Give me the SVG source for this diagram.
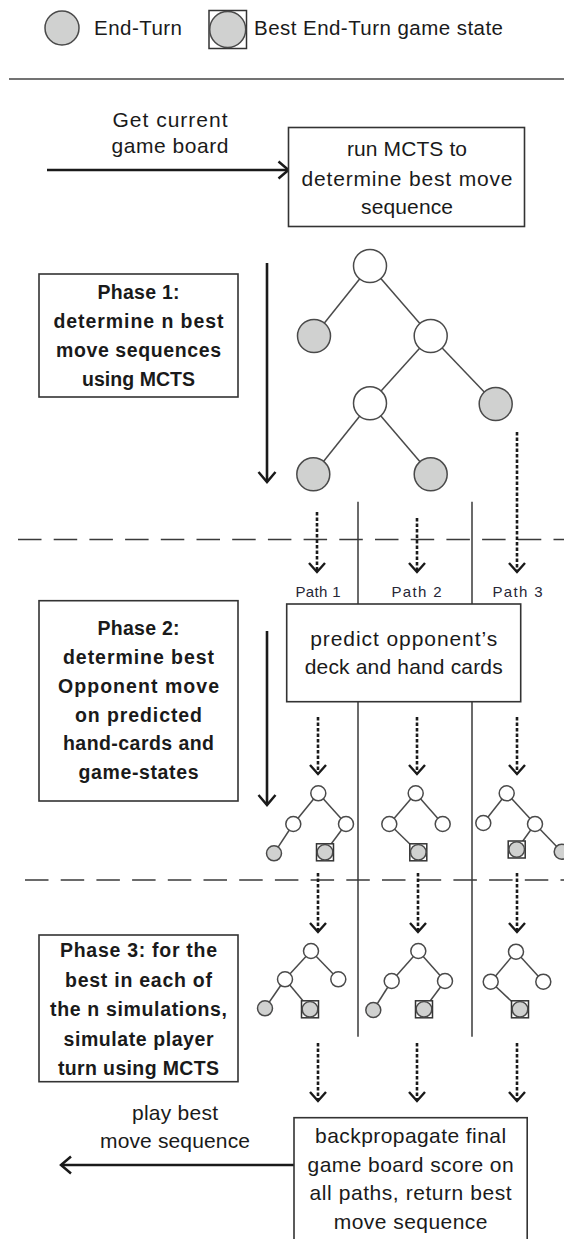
<svg xmlns="http://www.w3.org/2000/svg" width="564" height="1239" viewBox="0 0 564 1239">
  <style>
    .t { font-family: "Liberation Sans", Arial, sans-serif; font-size: 21px; fill: #1a1a1a; text-anchor: middle; }
    .b { font-weight: bold; font-size: 19.5px; }
    .lg { font-size: 20.5px; text-anchor: start; }
    .pl { font-size: 15px; fill: #262636; }
    .box { fill: #fff; stroke: #333; stroke-width: 1.6; }
    .arr { stroke: #1a1a1a; stroke-width: 2.6; fill: none; }
    .dot { stroke: #1a1a1a; stroke-width: 2.6; stroke-dasharray: 3.5 2; fill: none; }
    .sep { stroke: #3a3a3a; stroke-width: 1.5; fill: none; }
    .dash { stroke: #3a3a3a; stroke-width: 1.5; stroke-dasharray: 23.5 12.2; fill: none; }
    .edge { stroke: #4a4a4a; stroke-width: 1.5; fill: none; }
    .n { fill: #fff; stroke: #4a4a4a; stroke-width: 1.5; }
    .g { fill: #d0d1d0; stroke: #4a4a4a; stroke-width: 1.5; }
    .sq { fill: #fff; stroke: #333; stroke-width: 1.5; }
  </style>
  <defs>
    <marker id="head" viewBox="-12 -11 14 22" markerWidth="14" markerHeight="22" refX="0" refY="0" orient="auto" markerUnits="userSpaceOnUse">
      <path d="M-10,-8.5 L0,0 L-10,8.5" fill="none" stroke="#1a1a1a" stroke-width="2.5"/>
    </marker>
    <marker id="headS" viewBox="-12 -11 14 22" markerWidth="14" markerHeight="22" refX="0" refY="0" orient="auto" markerUnits="userSpaceOnUse">
      <path d="M-9,-8 L0,0 L-9,8" fill="none" stroke="#1a1a1a" stroke-width="2.4"/>
    </marker>
    <g id="best">
      <rect class="sq" x="-8.5" y="-8.5" width="17" height="17"/>
      <circle class="g" r="7.8"/>
    </g>
  </defs>

  <!-- legend -->
  <g id="legend">
    <circle class="g" cx="62" cy="28" r="17"/>
    <text class="t lg" x="94" y="35" textLength="88" lengthAdjust="spacing">End-Turn</text>
    <rect class="sq" x="209" y="10.5" width="37.5" height="38"/>
    <circle class="g" cx="227.7" cy="29.5" r="18"/>
    <text class="t lg" x="254" y="35" textLength="249" lengthAdjust="spacing">Best End-Turn game state</text>
  </g>
  <line x1="9" y1="79" x2="564" y2="79" stroke="#444" stroke-width="1.6"/>

  <!-- phase separators and path lanes -->
  <g id="separators">
    <line class="dash" x1="18" y1="539.5" x2="564" y2="539.5"/>
    <line class="dash" x1="25" y1="880" x2="564" y2="880"/>
    <line class="sep" x1="358" y1="501.7" x2="358" y2="604"/>
    <line class="sep" x1="472" y1="501.7" x2="472" y2="604"/>
    <line class="sep" x1="358" y1="701.7" x2="358" y2="1036.7"/>
    <line class="sep" x1="472" y1="701.7" x2="472" y2="1036.7"/>
  </g>

  <!-- connectors -->
  <g id="connectors">
    <line class="arr" x1="47" y1="170" x2="288.5" y2="170" marker-end="url(#head)"/>
    <line class="arr" x1="267" y1="263" x2="267" y2="482" marker-end="url(#head)"/>
    <line class="arr" x1="267" y1="631" x2="267" y2="805" marker-end="url(#head)"/>
    <line class="arr" x1="294" y1="1165" x2="61" y2="1165" marker-end="url(#head)"/>

    <line class="dot" x1="317" y1="512" x2="317" y2="572" marker-end="url(#headS)"/>
    <line class="dot" x1="417" y1="518" x2="417" y2="572" marker-end="url(#headS)"/>
    <line class="dot" x1="517" y1="432" x2="517" y2="572" marker-end="url(#headS)"/>

    <line class="dot" x1="318" y1="717" x2="318" y2="774" marker-end="url(#headS)"/>
    <line class="dot" x1="417" y1="717" x2="417" y2="774" marker-end="url(#headS)"/>
    <line class="dot" x1="517" y1="717" x2="517" y2="774" marker-end="url(#headS)"/>

    <line class="dot" x1="318" y1="873" x2="318" y2="932" marker-end="url(#headS)"/>
    <line class="dot" x1="418" y1="873" x2="418" y2="932" marker-end="url(#headS)"/>
    <line class="dot" x1="517" y1="873" x2="517" y2="932" marker-end="url(#headS)"/>

    <line class="dot" x1="318" y1="1043" x2="318" y2="1101" marker-end="url(#headS)"/>
    <line class="dot" x1="417" y1="1043" x2="417" y2="1101" marker-end="url(#headS)"/>
    <line class="dot" x1="517" y1="1043" x2="517" y2="1101" marker-end="url(#headS)"/>
  </g>

  <!-- top labels and boxes -->
  <g id="get-board">
    <text class="t" x="170" y="127" textLength="115" lengthAdjust="spacing">Get current</text>
    <text class="t" x="170" y="153" textLength="117" lengthAdjust="spacing">game board</text>
  </g>
  <g id="run-mcts">
    <rect class="box" x="288.5" y="127.5" width="236" height="99"/>
    <text class="t" x="407" y="156" textLength="120" lengthAdjust="spacing">run MCTS to</text>
    <text class="t" x="407" y="186" textLength="211" lengthAdjust="spacing">determine best move</text>
    <text class="t" x="407" y="214" textLength="92" lengthAdjust="spacing">sequence</text>
  </g>

  <g id="phase1">
    <rect class="box" x="39" y="274" width="199" height="123"/>
    <text class="t b" x="138.5" y="299" textLength="82" lengthAdjust="spacing">Phase 1:</text>
    <text class="t b" x="138.5" y="328" textLength="170" lengthAdjust="spacing">determine n best</text>
    <text class="t b" x="138.5" y="357" textLength="165" lengthAdjust="spacing">move sequences</text>
    <text class="t b" x="138.5" y="386" textLength="113" lengthAdjust="spacing">using MCTS</text>
  </g>

  <!-- phase 1 search tree -->
  <g id="tree1">
    <g class="edge">
      <line x1="370" y1="266" x2="314" y2="336"/>
      <line x1="370" y1="266" x2="430.7" y2="336"/>
      <line x1="430.7" y1="336" x2="370" y2="403.3"/>
      <line x1="430.7" y1="336" x2="495.7" y2="404"/>
      <line x1="370" y1="403.3" x2="313.3" y2="474.3"/>
      <line x1="370" y1="403.3" x2="430.7" y2="474.3"/>
    </g>
    <circle class="n" cx="370" cy="266" r="16.5"/>
    <circle class="g" cx="314" cy="336" r="16.5"/>
    <circle class="n" cx="430.7" cy="336" r="16.5"/>
    <circle class="n" cx="370" cy="403.3" r="16.5"/>
    <circle class="g" cx="495.7" cy="404" r="16.5"/>
    <circle class="g" cx="313.3" cy="474.3" r="16.5"/>
    <circle class="g" cx="430.7" cy="474.3" r="16.5"/>
  </g>

  <g id="path-labels">
    <text class="t pl" x="318" y="597" textLength="45" lengthAdjust="spacing">Path 1</text>
    <text class="t pl" x="416.5" y="597" textLength="50" lengthAdjust="spacing">Path 2</text>
    <text class="t pl" x="517.5" y="597" textLength="50" lengthAdjust="spacing">Path 3</text>
  </g>

  <g id="phase2">
    <rect class="box" x="39" y="600.7" width="199" height="200.3"/>
    <text class="t b" x="138.5" y="635" textLength="82" lengthAdjust="spacing">Phase 2:</text>
    <text class="t b" x="138.5" y="664" textLength="151" lengthAdjust="spacing">determine best</text>
    <text class="t b" x="138.5" y="693" textLength="161" lengthAdjust="spacing">Opponent move</text>
    <text class="t b" x="138.5" y="722" textLength="127" lengthAdjust="spacing">on predicted</text>
    <text class="t b" x="138.5" y="750" textLength="151" lengthAdjust="spacing">hand-cards and</text>
    <text class="t b" x="138.5" y="779" textLength="120" lengthAdjust="spacing">game-states</text>
  </g>

  <g id="predict">
    <rect class="box" x="286.7" y="604" width="234" height="97.7"/>
    <text class="t" x="403.7" y="646" textLength="187" lengthAdjust="spacing">predict opponent’s</text>
    <text class="t" x="403.7" y="674" textLength="198" lengthAdjust="spacing">deck and hand cards</text>
  </g>

  <!-- opponent trees, one per path -->
  <g id="opp-tree1">
    <g class="edge">
      <line x1="318.3" y1="793.3" x2="293.3" y2="824"/>
      <line x1="318.3" y1="793.3" x2="346" y2="824"/>
      <line x1="293.3" y1="824" x2="274" y2="853.3"/>
      <line x1="346" y1="824" x2="325" y2="852.3"/>
    </g>
    <circle class="n" cx="318.3" cy="793.3" r="7.5"/>
    <circle class="n" cx="293.3" cy="824" r="7.5"/>
    <circle class="n" cx="346" cy="824" r="7.5"/>
    <circle class="g" cx="274" cy="853.3" r="7.5"/>
    <use href="#best" x="325" y="852.3"/>
  </g>
  <g id="opp-tree2">
    <g class="edge">
      <line x1="415.7" y1="793.3" x2="389.3" y2="824"/>
      <line x1="415.7" y1="793.3" x2="442.7" y2="824"/>
      <line x1="389.3" y1="824" x2="418.3" y2="852.3"/>
    </g>
    <circle class="n" cx="415.7" cy="793.3" r="7.5"/>
    <circle class="n" cx="389.3" cy="824" r="7.5"/>
    <circle class="n" cx="442.7" cy="824" r="7.5"/>
    <use href="#best" x="418.3" y="852.3"/>
  </g>
  <g id="opp-tree3">
    <g class="edge">
      <line x1="506.7" y1="793.3" x2="483.3" y2="823"/>
      <line x1="506.7" y1="793.3" x2="535" y2="824"/>
      <line x1="535" y1="824" x2="516.7" y2="849.5"/>
      <line x1="535" y1="824" x2="561.7" y2="851.7"/>
    </g>
    <circle class="n" cx="506.7" cy="793.3" r="7.5"/>
    <circle class="n" cx="483.3" cy="823" r="7.5"/>
    <circle class="n" cx="535" cy="824" r="7.5"/>
    <use href="#best" x="516.7" y="849.5"/>
    <circle class="g" cx="561.7" cy="851.7" r="7.5"/>
  </g>

  <g id="phase3">
    <rect class="box" x="39" y="935" width="199" height="146.7"/>
    <text class="t b" x="138.5" y="957.3" textLength="157" lengthAdjust="spacing">Phase 3: for the</text>
    <text class="t b" x="138.5" y="986.7" textLength="147" lengthAdjust="spacing">best in each of</text>
    <text class="t b" x="138.5" y="1016" textLength="177" lengthAdjust="spacing">the n simulations,</text>
    <text class="t b" x="138.5" y="1045.5" textLength="150" lengthAdjust="spacing">simulate player</text>
    <text class="t b" x="138.5" y="1074.5" textLength="161" lengthAdjust="spacing">turn using MCTS</text>
  </g>

  <!-- player trees, one per path -->
  <g id="play-tree1">
    <g class="edge">
      <line x1="311" y1="951" x2="285" y2="979.3"/>
      <line x1="311" y1="951" x2="338.3" y2="979.3"/>
      <line x1="285" y1="979.3" x2="265" y2="1008.3"/>
      <line x1="285" y1="979.3" x2="310" y2="1009.3"/>
    </g>
    <circle class="n" cx="311" cy="951" r="7.5"/>
    <circle class="n" cx="285" cy="979.3" r="7.5"/>
    <circle class="n" cx="338.3" cy="979.3" r="7.5"/>
    <circle class="g" cx="265" cy="1008.3" r="7.5"/>
    <use href="#best" x="310" y="1009.3"/>
  </g>
  <g id="play-tree2">
    <g class="edge">
      <line x1="418.3" y1="951" x2="391.7" y2="981"/>
      <line x1="418.3" y1="951" x2="445" y2="981"/>
      <line x1="391.7" y1="981" x2="373.3" y2="1010"/>
      <line x1="445" y1="981" x2="424" y2="1009.3"/>
    </g>
    <circle class="n" cx="418.3" cy="951" r="7.5"/>
    <circle class="n" cx="391.7" cy="981" r="7.5"/>
    <circle class="n" cx="445" cy="981" r="7.5"/>
    <circle class="g" cx="373.3" cy="1010" r="7.5"/>
    <use href="#best" x="424" y="1009.3"/>
  </g>
  <g id="play-tree3">
    <g class="edge">
      <line x1="516" y1="951.7" x2="490.7" y2="981.7"/>
      <line x1="516" y1="951.7" x2="543.3" y2="981.7"/>
      <line x1="490.7" y1="981.7" x2="520" y2="1009.3"/>
    </g>
    <circle class="n" cx="516" cy="951.7" r="7.5"/>
    <circle class="n" cx="490.7" cy="981.7" r="7.5"/>
    <circle class="n" cx="543.3" cy="981.7" r="7.5"/>
    <use href="#best" x="520" y="1009.3"/>
  </g>

  <g id="play-best">
    <text class="t" x="175" y="1120" textLength="86" lengthAdjust="spacing">play best</text>
    <text class="t" x="175" y="1148" textLength="150" lengthAdjust="spacing">move sequence</text>
  </g>

  <g id="backpropagate">
    <rect class="box" x="294" y="1117.7" width="233.2" height="130"/>
    <text class="t" x="410.6" y="1143.3" textLength="191" lengthAdjust="spacing">backpropagate final</text>
    <text class="t" x="410.6" y="1171.7" textLength="206" lengthAdjust="spacing">game board score on</text>
    <text class="t" x="410.6" y="1200" textLength="202" lengthAdjust="spacing">all paths, return best</text>
    <text class="t" x="410.6" y="1229" textLength="153.6" lengthAdjust="spacing">move sequence</text>
  </g>
</svg>
